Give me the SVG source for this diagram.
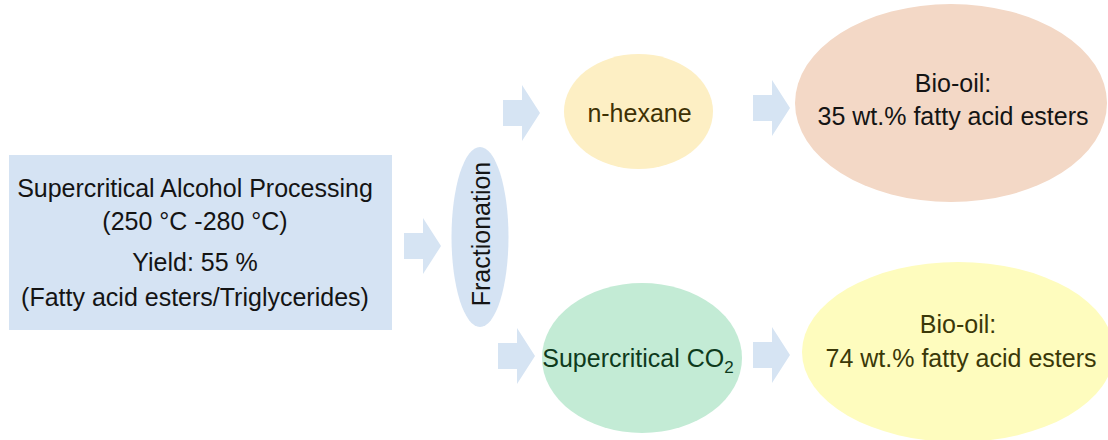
<svg xmlns="http://www.w3.org/2000/svg" width="1108" height="440" viewBox="0 0 1108 440">
<style>
text{font-family:"Liberation Sans",Arial,sans-serif;font-size:25px;text-anchor:middle}
.arrow{fill:#d6e4f3}
.dark{fill:#141414}
.brown{fill:#3d3104}
.green{fill:#0e3a1c}
.olive{fill:#3a3808}
</style>
<defs>
<path id="arr" d="M0,-13 H19 V-28 L37,0 L19,28 V13 H0 Z"/>
</defs>
<rect width="1108" height="440" fill="#ffffff"/>
<g id="connectors" class="arrow">
<use href="#arr" transform="translate(404,246)"/>
<use href="#arr" transform="translate(503,113)"/>
<use href="#arr" transform="translate(753,108)"/>
<use href="#arr" transform="translate(498,356)"/>
<use href="#arr" transform="translate(753,355)"/>
</g>
<g id="processing">
<rect x="9" y="155" width="383" height="175" fill="#d5e3f3"/>
<text class="dark" x="195" y="197">Supercritical Alcohol Processing</text>
<text class="dark" x="195" y="230">(250 °C -280 °C)</text>
<text class="dark" x="195" y="271">Yield: 55 %</text>
<text class="dark" x="195" y="306">(Fatty acid esters/Triglycerides)</text>
</g>
<g id="fractionation">
<ellipse cx="480" cy="237" rx="28.5" ry="90" fill="#d5e3f3"/>
<text class="dark" transform="translate(490,234) rotate(-90)" x="0" y="0" font-size="26">Fractionation</text>
</g>
<g id="nhexane">
<ellipse cx="638.5" cy="111.5" rx="74.5" ry="57.5" fill="#fdefc4"/>
<text class="brown" x="639.5" y="122">n-hexane</text>
</g>
<g id="bio-oil-1">
<ellipse cx="951" cy="103" rx="156" ry="99" fill="#f3d8c6"/>
<text class="dark" x="953" y="92">Bio-oil:</text>
<text class="dark" x="953" y="125">35 wt.% fatty acid esters</text>
</g>
<g id="scco2">
<ellipse cx="642" cy="358" rx="100" ry="75" fill="#c3ebd5"/>
<text class="green" x="638" y="367">Supercritical CO<tspan font-size="17" dy="6">2</tspan></text>
</g>
<g id="bio-oil-2">
<ellipse cx="958" cy="352" rx="156" ry="90" fill="#fefcbe"/>
<text class="olive" x="958" y="333">Bio-oil:</text>
<text class="olive" x="961" y="367">74 wt.% fatty acid esters</text>
</g>
</svg>
